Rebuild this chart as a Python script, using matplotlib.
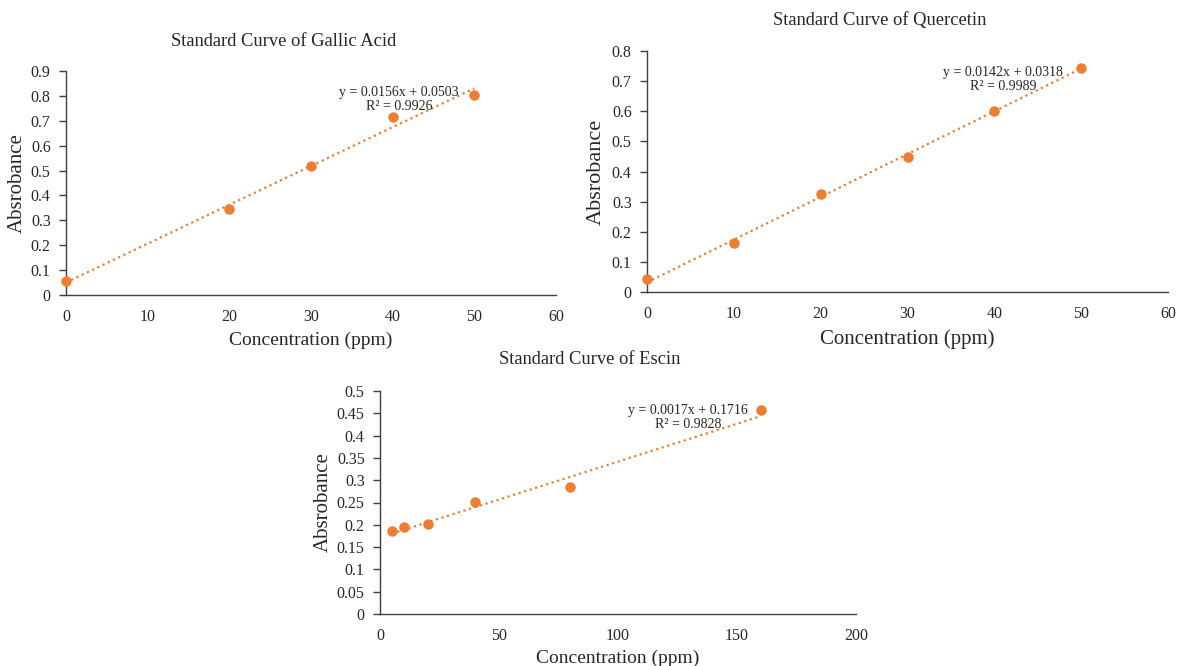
import numpy as np
import matplotlib
matplotlib.use('Agg')
import matplotlib.pyplot as plt

plt.rcParams['font.family'] = ['Liberation Serif', 'DejaVu Serif']

# gallic acid
gallic_x = [0, 20, 30, 40, 50]
gallic_y = [0.055, 0.347, 0.518, 0.717, 0.805]
gallic_fit = (0.0156, 0.0503, 0.9926)

# quercetin
querc_x = [0, 10, 20, 30, 40, 50]
querc_y = [0.043, 0.162, 0.324, 0.449, 0.600, 0.745]
querc_fit = (0.0142, 0.0318, 0.9989)

# escin
escin_x = [5, 10, 20, 40, 80, 160]
escin_y = [0.187, 0.194, 0.201, 0.251, 0.284, 0.457]
escin_fit = (0.0017, 0.1716, 0.9828)

orange = '#ED7D31'
txt = '#262626'
W, H = 1181, 666

fig = plt.figure(figsize=(W / 100, H / 100), dpi=100)


def px_axes(x0, x1, ytop, ybot):
    return fig.add_axes([x0 / W, (H - ybot) / H, (x1 - x0) / W, (ybot - ytop) / H])


def draw(ax, xs, ys, fit, title, title_px, xlim, ylim, yticks, ylabs, xticks,
         eq_pos, ylab_x, xlab_y, lab_size):
    m, b, r2 = fit
    xf = np.array([min(xs), max(xs)])
    ax.plot(xf, m * xf + b, linestyle=(0, (1, 1.6)), color=orange, lw=1.6, zorder=2)
    ax.plot(xs, ys, 'o', color=orange, ms=6.5, zorder=3, clip_on=False)
    ax.set_xlim(*xlim)
    ax.set_ylim(*ylim)
    ax.set_yticks(yticks)
    ax.set_yticklabels(ylabs)
    ax.set_xticks(xticks)
    for s in ['top', 'right']:
        ax.spines[s].set_visible(False)
    for s in ['left', 'bottom']:
        ax.spines[s].set_color('#404040')
        ax.spines[s].set_linewidth(1.0)
    ax.tick_params(axis='y', direction='out', length=5, width=1, color='#404040',
                   labelsize=11.5, labelcolor=txt, pad=6)
    ax.tick_params(axis='x', length=0, labelsize=11.5, labelcolor=txt, pad=10)
    ax.text(eq_pos[0], eq_pos[1], 'y = %.4fx + %.4f\nR² = %.4f' % (m, b, r2),
            ha='center', va='center', fontsize=10, color=txt, linespacing=1.1,
            zorder=4)
    fig.text(title_px[0] / W, 1 - title_px[1] / H, title, fontsize=13.3,
             color=txt, ha='center', va='center')
    ax.set_ylabel('Absrobance', fontsize=lab_size + 1, color=txt)
    ax.yaxis.set_label_coords(ylab_x, 0.5)
    ax.set_xlabel('Concentration (ppm)', fontsize=lab_size, color=txt)
    ax.xaxis.set_label_coords(0.5, xlab_y)


ax1 = px_axes(66, 556, 71, 295)
draw(ax1, gallic_x, gallic_y, gallic_fit, 'Standard Curve of Gallic Acid', (284, 42),
     (0, 60), (0, 0.9), np.arange(0, 0.91, 0.1),
     ['0', '0.1', '0.2', '0.3', '0.4', '0.5', '0.6', '0.7', '0.8', '0.9'],
     range(0, 61, 10), (40.8, 0.787), -0.08, -0.162, 14)

ax2 = px_axes(647, 1168, 51, 292)
draw(ax2, querc_x, querc_y, querc_fit, 'Standard Curve of Quercetin', (880, 20),
     (0, 60), (0, 0.8), np.arange(0, 0.81, 0.1),
     ['0', '0.1', '0.2', '0.3', '0.4', '0.5', '0.6', '0.7', '0.8'],
     range(0, 61, 10), (41.0, 0.704), -0.079, -0.155, 15)

ax3 = px_axes(380, 856, 391, 614)
draw(ax3, escin_x, escin_y, escin_fit, 'Standard Curve of Escin', (590, 360),
     (0, 200), (0, 0.5), np.arange(0, 0.51, 0.05),
     ['0', '0.05', '0.1', '0.15', '0.2', '0.25', '0.3', '0.35', '0.4', '0.45', '0.5'],
     range(0, 201, 50), (129.4, 0.44), -0.099, -0.16, 14)

fig.savefig('out.png', dpi=100)
